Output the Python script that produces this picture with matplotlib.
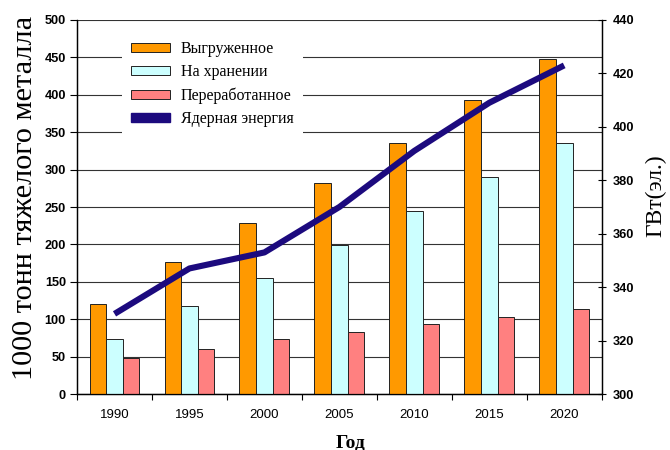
import numpy as np
import matplotlib
matplotlib.use('Agg')
import matplotlib.pyplot as plt
from matplotlib.patches import Patch

years = ['1990', '1995', '2000', '2005', '2010', '2015', '2020']
unloaded = [121, 176, 229, 282, 336, 393, 448]      # Выгруженное
stored = [73, 117, 155, 199, 244, 290, 335]         # На хранении
reprocessed = [48, 60, 74, 83, 93, 103, 114]        # Переработанное
nuclear = [330, 347, 353, 370, 391, 409, 423]       # Ядерная энергия, ГВт(эл.)

series_names = ['Выгруженное', 'На хранении', 'Переработанное', 'Ядерная энергия']
bar_colors = ['#FF9900', '#CCFFFF', '#FF8080']
line_color = '#1C0A7E'

sans = 'Liberation Sans'
serif = 'Liberation Serif'

fig = plt.figure(figsize=(6.7, 4.5), dpi=100)
ax = fig.add_axes([0.115, 0.1244, 0.783, 0.8312])
ax2 = ax.twinx()

x = np.arange(len(years))
w = 0.222
for i, vals in enumerate([unloaded, stored, reprocessed]):
    ax.bar(x + (i - 1) * w, vals, w, color=bar_colors[i], edgecolor='#222222',
           linewidth=0.7, zorder=3)

ax2.plot(x, nuclear, color=line_color, linewidth=4.4, solid_capstyle='butt', zorder=4)

ax.set_xlim(-0.5, len(years) - 0.5)
ax.set_ylim(0, 500)
ax.set_yticks(np.arange(0, 501, 50))
ax.yaxis.grid(True, color='#333333', linewidth=0.8, zorder=0)
ax.set_axisbelow(True)
ax2.set_ylim(300, 440)
ax2.set_yticks(np.arange(300, 441, 20))

# category labels at centers, tick marks at boundaries
ax.set_xticks(x)
ax.set_xticklabels(years, fontfamily=sans, fontsize=9.5)
ax.tick_params(axis='x', length=0, pad=11)
ax.set_xticks(np.arange(-0.5, len(years)), minor=True)
ax.tick_params(axis='x', which='minor', length=4, width=0.8, direction='out')

for a in (ax, ax2):
    a.spines['top'].set_visible(False)
    for s in a.spines.values():
        s.set_linewidth(0.9)
ax.tick_params(axis='y', length=5, width=0.8, pad=3)
ax2.tick_params(axis='y', length=6, width=0.8, pad=5, direction='inout')
for lab in ax.get_yticklabels() + ax2.get_yticklabels():
    lab.set_fontfamily(sans)
    lab.set_fontweight('bold')
    lab.set_fontsize(9.2)

ax.set_ylabel('1000 тонн тяжелого металла', fontfamily=serif, fontsize=21.8)
ax.yaxis.set_label_coords(-0.075, 0.523)
ax2.set_ylabel('ГВт(эл.)', fontfamily=serif, fontsize=17, rotation=90)
ax2.yaxis.set_label_coords(1.084, 0.53)
ax.set_xlabel('Год', fontfamily=serif, fontsize=14, fontweight='bold')
ax.xaxis.set_label_coords(0.521, -0.108)

handles = [Patch(facecolor=c, edgecolor='#222222', linewidth=0.7) for c in bar_colors]
handles.append(Patch(facecolor=line_color, edgecolor=line_color))
leg = ax2.legend(handles, series_names, loc='upper left', bbox_to_anchor=(0.07, 0.99),
                 prop={'family': serif, 'size': 11.5}, frameon=True, fancybox=False,
                 edgecolor='none', facecolor='white', framealpha=1.0,
                 handlelength=2.45, handleheight=0.5, handletextpad=0.65,
                 labelspacing=0.45, borderpad=0.6)
leg.set_zorder(5)

fig.savefig('out.png', dpi=100)
